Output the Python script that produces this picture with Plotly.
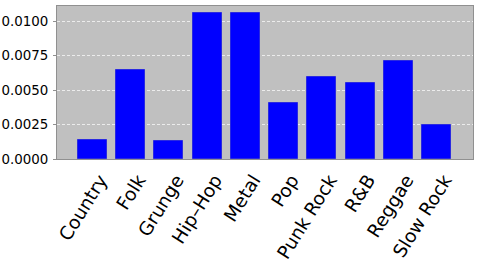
import plotly.graph_objects as go

genres = ["Country", "Folk", "Grunge", "Hip–Hop", "Metal", "Pop", "Punk Rock", "R&B", "Reggae", "Slow Rock"]
values = [0.00136, 0.00646, 0.00129, 0.01058, 0.01058, 0.00405, 0.00596, 0.00552, 0.00709, 0.00247]
y_ticks = [0.0, 0.0025, 0.005, 0.0075, 0.01]
y_tick_labels = ["0.0000", "0.0025", "0.0050", "0.0075", "0.0100"]

fig = go.Figure(go.Bar(
    x=list(range(len(genres))), y=values, width=0.757,
    marker=dict(color="#0000ff", line=dict(color="#2a2ae0", width=1)),
))

fig.update_layout(
    width=480, height=270,
    margin=dict(l=57, r=7, t=6, b=111),
    paper_bgcolor="white", plot_bgcolor="#c0c0c0",
    font=dict(family="DejaVu Sans", color="black"),
    showlegend=False,
    bargap=0,
)
fig.update_xaxes(
    range=[-0.92, 9.95], tickmode="array", tickvals=list(range(len(genres))), ticktext=genres,
    tickangle=-58, tickfont=dict(size=18.5), showgrid=False, automargin=False,
    showline=True, linecolor="#909090", linewidth=1, mirror=True, ticks="",
    ticklabelshift=8, ticklabelstandoff=2,
)
fig.update_yaxes(
    range=[0, 0.01111], tickmode="array", tickvals=y_ticks, ticktext=y_tick_labels,
    tickfont=dict(size=13.4), showgrid=True, gridcolor="#ececec", griddash="3px,2px", gridwidth=0.8,
    zeroline=False, showline=True, linecolor="#909090", linewidth=1, mirror=True,
    ticks="outside", ticklen=3, tickcolor="#909090", tickwidth=1,
    ticklabelstandoff=2, automargin=False,
)

fig.write_html("out.html")
